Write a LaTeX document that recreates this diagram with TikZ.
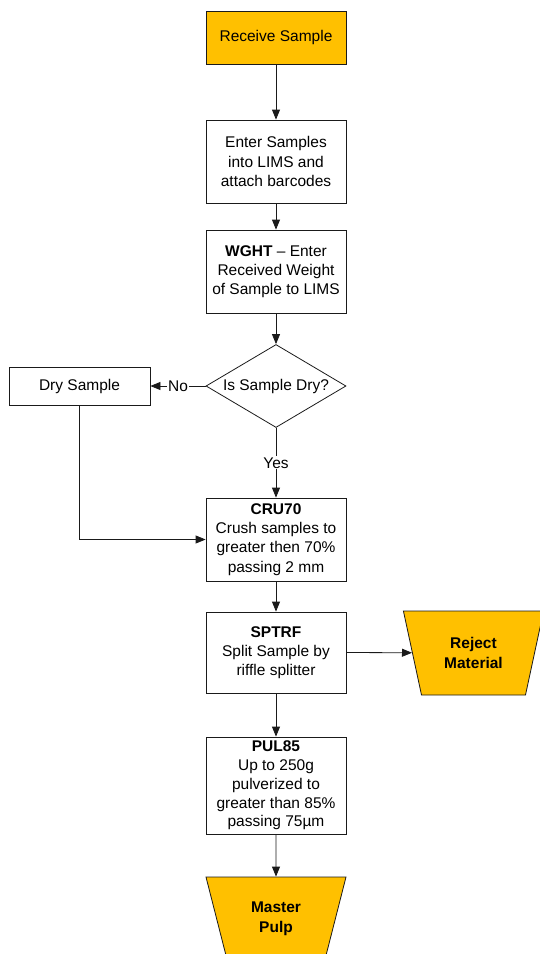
\documentclass[tikz,border=0pt]{standalone}
\usepackage{fontspec}
\setmainfont{Liberation Sans}
\usetikzlibrary{shapes.geometric,arrows.meta}
\definecolor{SampleGold}{HTML}{FFC000}
\definecolor{NiceBlack}{HTML}{1A1A1A}

\tikzset{
  stepbox/.style={draw=NiceBlack, line width=0.8pt, rectangle, minimum width=140pt,
    align=center, inner sep=0pt, font=\fontsize{15.5}{19.3}\selectfont},
  endbox/.style={draw=NiceBlack, line width=0.8pt, fill=SampleGold, trapezium,
    trapezium stretches=true, shape border rotate=180, trapezium angle=72,
    minimum width=141pt, minimum height=84pt, align=center, inner sep=0pt,
    font=\fontsize{15.5}{20}\selectfont\bfseries},
  flow/.style={draw=NiceBlack, line width=0.8pt, -{Triangle[length=10pt,width=8pt]}},
  answer/.style={fill=white, inner sep=1pt, font=\fontsize{15.5}{20}\selectfont}
}

\begin{document}
\begin{tikzpicture}[x=1pt,y=-1pt]
      \useasboundingbox (0,0) rectangle (539,954);
      % Main column
      \node[stepbox, fill=SampleGold, minimum height=53pt] (recv) at (276,37.5) {Receive Sample};
      \node[stepbox, minimum height=83pt] (enter) at (276,161.5) {Enter Samples\\into LIMS and\\attach barcodes};
      \node[stepbox, minimum height=83pt] (wght) at (276,271.5) {\textbf{WGHT} -- Enter\\Received Weight\\of Sample to LIMS};
      % Decision
      \node[diamond, draw=NiceBlack, line width=0.8pt, minimum width=140pt,
        minimum height=83pt, inner sep=0pt] (isdry) at (276,386) {};
      \node[font=\fontsize{15.5}{20}\selectfont] (isdrytext) at (isdry) {Is Sample Dry?};
      \node[stepbox, minimum width=141pt, minimum height=38pt] (drys) at (79.5,386) {Dry Sample};
      % Preparation
      \node[stepbox, minimum height=83pt] (cru) at (276,539.5) {\textbf{CRU70}\\Crush samples to\\greater then 70\%\\passing 2 mm};
      \node[stepbox, minimum height=81pt] (split) at (276,652.5) {\textbf{SPTRF}\\Split Sample by\\riffle splitter};
      \node[endbox] (reject) at (473.5,653) {Reject\\Material};
      \node[stepbox, minimum height=97pt, font=\fontsize{15.5}{18.8}\selectfont] (pul) at (276,785.5) {\textbf{PUL85}\\Up to 250g\\pulverized to\\greater than 85\%\\passing 75µm};
      \node[endbox] (pulp) at (276,919) {Master\\Pulp};
      % Connectors
      \draw[flow] (recv) -- (enter);
      \draw[flow] (enter) -- (wght);
      \draw[flow] (wght) -- (isdry);
      \draw[flow] (isdry.west) -- (drys.east) node[midway, answer] {No};
      \draw[flow] (isdry.south) -- (cru.north) node[midway, answer] {Yes};
      \draw[flow] (drys.south) |- (cru.west);
      \draw[flow] (cru) -- (split);
      \draw[flow] (split.east) -- (reject);
      \draw[flow] (split) -- (pul);
      \draw[flow] (pul) -- (pulp);
\end{tikzpicture}
\end{document}
